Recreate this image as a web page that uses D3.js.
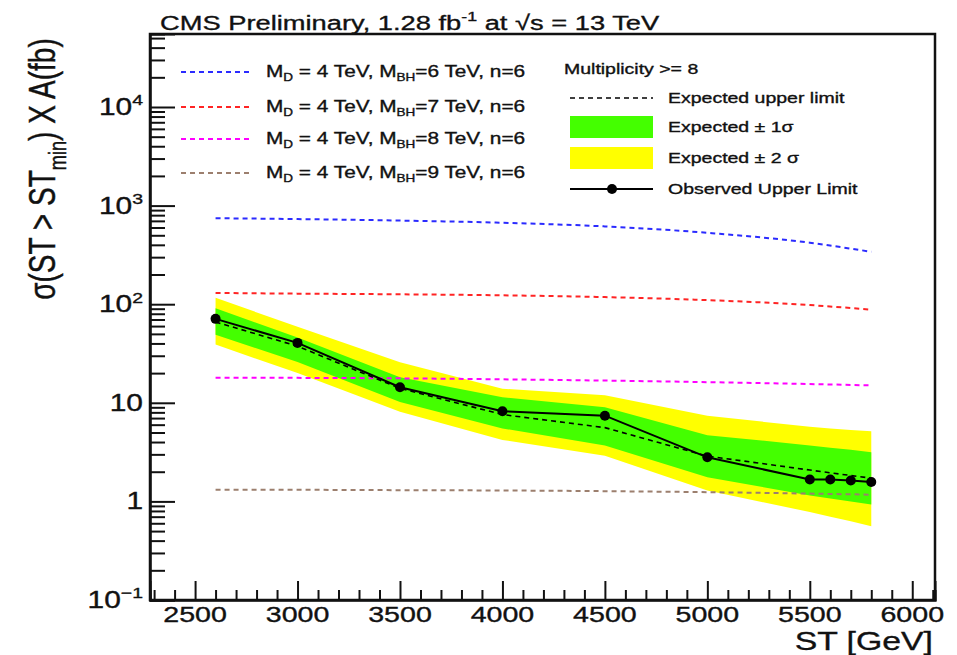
<!DOCTYPE html>
<html>
<head>
<meta charset="utf-8">
<script src="https://cdn.jsdelivr.net/npm/d3@7"></script>
<style>
body { margin: 0; background: #fff; }
text { font-family: "Liberation Sans", Arial, Helvetica, sans-serif; fill: #111; stroke: #111; stroke-width: 0.35px; }
</style>
</head>
<body>
<div id="chart"></div>
<script>
// data
var stPoints = [2600, 3000, 3500, 4000, 4500, 5000, 5500, 5600, 5700, 5800];
var observed = [71, 40.5, 14.4, 8.2, 7.4, 2.8, 1.67, 1.67, 1.63, 1.57];
var expected = [66, 37.5, 14, 7.6, 5.6, 2.88, 2.08, 1.95, 1.83, 1.72];
var sigma1Up = [91, 46, 18.2, 11.4, 9.0, 4.7, 3.7, 3.5, 3.35, 3.16];
var sigma1Dn = [49, 26, 10.2, 5.5, 3.7, 1.76, 1.15, 1.07, 1.0, 0.93];
var sigma2Up = [116, 59, 25.8, 13.9, 11.9, 7.4, 5.7, 5.5, 5.3, 5.15];
var sigma2Dn = [39, 20, 8.1, 4.2, 2.9, 1.29, 0.78, 0.7, 0.63, 0.56];

var modelST = [2600, 3000, 3500, 4000, 4500, 5000, 5500, 5800];
var mbh6 = [745, 730, 705, 670, 615, 530, 420, 340];
var mbh7 = [130, 128, 126, 123, 118, 110, 98, 88];
var mbh8 = [18, 17.9, 17.7, 17.3, 16.8, 16.2, 15.5, 15];
var mbh9 = [1.31, 1.31, 1.3, 1.29, 1.27, 1.24, 1.2, 1.17];

var modelNames = ["6", "7", "8", "9"];
var modelColors = ["#2b2bff", "#ff2424", "#ff00ff", "#9c7f6e"];

var xMajor = [2500, 3000, 3500, 4000, 4500, 5000, 5500, 6000];
var yMajor = [0.1, 1, 10, 100, 1000, 10000];
var yLabels = [["10", "\u22121"], ["1", ""], ["10", ""], ["10", "2"], ["10", "3"], ["10", "4"]];

// setup
var svgWidth = 957;
var svgHeight = 655;
var margin = {top: 34, right: 22, bottom: 55, left: 150};
var chartWidth = svgWidth - margin.left - margin.right;
var chartHeight = svgHeight - margin.top - margin.bottom;
var SX = 1.3; // the picture is stretched sideways

var svg = d3.select("#chart")
  .append("svg")
  .attr("width", svgWidth)
  .attr("height", svgHeight);

var chartGroup = svg.append("g")
  .attr("transform", `translate(${margin.left}, ${margin.top})`);

var xScale = d3.scaleLinear()
  .domain([2280, 6111])
  .range([0, chartWidth]);

var yScale = d3.scaleLog()
  .domain([0.1, 55000])
  .range([chartHeight, 0]);

// text with sub/superscripts, stretched like the original
function richText(parent, x, y, parts, size, anchor, rotated) {
  var t = parent.append("text")
    .attr("font-size", size)
    .attr("text-anchor", anchor || "start")
    .attr("transform", rotated
      ? `translate(${x},${y}) rotate(-90) scale(1,${SX})`
      : `translate(${x},${y}) scale(${SX},1)`);
  var shift = 0;
  parts.forEach(function(p) {
    var want = p[1] == "sub" ? size * 0.3 : p[1] == "sup" ? -size * 0.42 : 0;
    t.append("tspan")
      .attr("dy", want - shift)
      .attr("font-size", p[1] ? size * 0.65 : size)
      .text(p[0]);
    shift = want;
  });
  return t;
}

// bands
var rows = stPoints.map(function(st, i) {
  return {st: st, obs: observed[i], exp: expected[i],
    u1: sigma1Up[i], d1: sigma1Dn[i], u2: sigma2Up[i], d2: sigma2Dn[i]};
});

chartGroup.append("path")
  .datum(rows)
  .attr("fill", "#ffff00")
  .attr("d", d3.area().x(d => xScale(d.st)).y0(d => yScale(d.d2)).y1(d => yScale(d.u2)));

chartGroup.append("path")
  .datum(rows)
  .attr("fill", "#44ff00")
  .attr("d", d3.area().x(d => xScale(d.st)).y0(d => yScale(d.d1)).y1(d => yScale(d.u1)));

// model curves
[mbh6, mbh7, mbh8, mbh9].forEach(function(vals, k) {
  chartGroup.append("path")
    .datum(modelST.map((st, i) => [st, vals[i]]))
    .attr("fill", "none")
    .attr("stroke", modelColors[k])
    .attr("stroke-width", 2)
    .attr("stroke-dasharray", "5,4")
    .attr("d", d3.line().curve(d3.curveMonotoneX).x(d => xScale(d[0])).y(d => yScale(d[1])));
});

// expected and observed
chartGroup.append("path")
  .datum(rows)
  .attr("fill", "none")
  .attr("stroke", "#000")
  .attr("stroke-width", 1.6)
  .attr("stroke-dasharray", "5,4")
  .attr("d", d3.line().x(d => xScale(d.st)).y(d => yScale(d.exp)));

chartGroup.append("path")
  .datum(rows)
  .attr("fill", "none")
  .attr("stroke", "#000")
  .attr("stroke-width", 2)
  .attr("d", d3.line().x(d => xScale(d.st)).y(d => yScale(d.obs)));

chartGroup.selectAll("circle.obs")
  .data(rows)
  .enter()
  .append("circle")
  .attr("class", "obs")
  .attr("cx", d => xScale(d.st))
  .attr("cy", d => yScale(d.obs))
  .attr("r", 5)
  .attr("fill", "#000");

// axes
var xMinor = d3.range(2300, 6101, 100).filter(v => v % 500 != 0);
chartGroup.append("g")
  .attr("transform", `translate(0, ${chartHeight})`)
  .call(d3.axisBottom(xScale).tickValues(xMinor).tickSize(-10).tickFormat(""));
chartGroup.append("g")
  .attr("transform", `translate(0, ${chartHeight})`)
  .call(d3.axisBottom(xScale).tickValues(xMajor).tickSize(-19).tickFormat(""));

var yMinor = yScale.ticks().filter(v => yMajor.indexOf(v) < 0);
chartGroup.append("g")
  .call(d3.axisLeft(yScale).tickValues(yMinor).tickSize(-15).tickFormat(""));
chartGroup.append("g")
  .call(d3.axisLeft(yScale).tickValues(yMajor).tickSize(-25).tickFormat(""));

chartGroup.selectAll(".domain, .tick line")
  .attr("stroke", "#111")
  .attr("stroke-width", 2);

// frame
chartGroup.append("rect")
  .attr("width", chartWidth)
  .attr("height", chartHeight)
  .attr("fill", "none")
  .attr("stroke", "#111")
  .attr("stroke-width", 2.5);

// tick labels
xMajor.forEach(function(v) {
  richText(chartGroup, xScale(v), chartHeight + 22, [[String(v), ""]], 22, "middle");
});
yMajor.forEach(function(v, i) {
  var parts = [[yLabels[i][0], ""]];
  if (yLabels[i][1]) parts.push([yLabels[i][1], "sup"]);
  richText(chartGroup, -7, yScale(v) + 8, parts, 23, "end");
});

// axis titles
richText(svg, 933, 650, [["ST [GeV]", ""]], 26, "end");
richText(svg, 55, 169, [["\u03c3(ST > ST", ""], ["min", "sub"], [") X A(fb)", ""]], 28, "middle", true);

// title
richText(svg, 160, 30, [["CMS Preliminary, 1.28 fb", ""], ["-1", "sup"], [" at \u221as = 13 TeV", ""]], 21, "start");

// left legend
var legRowsL = [72, 107, 139, 173];
modelNames.forEach(function(m, k) {
  svg.append("line")
    .attr("x1", 181).attr("x2", 253)
    .attr("y1", legRowsL[k]).attr("y2", legRowsL[k])
    .attr("stroke", modelColors[k])
    .attr("stroke-width", 2)
    .attr("stroke-dasharray", "5,4");
  richText(svg, 266, legRowsL[k] + 4.5,
    [["M", ""], ["D", "sub"], [" = 4 TeV, M", ""], ["BH", "sub"], ["=" + m + " TeV, n=6", ""]], 16, "start");
});

// right legend
richText(svg, 564, 74, [["Multiplicity >= 8", ""]], 15, "start");
svg.append("line")
  .attr("x1", 570).attr("x2", 653).attr("y1", 98).attr("y2", 98)
  .attr("stroke", "#000").attr("stroke-width", 1.6).attr("stroke-dasharray", "5,4");
richText(svg, 668, 103, [["Expected upper limit", ""]], 15, "start");
svg.append("rect").attr("x", 570).attr("y", 116).attr("width", 83).attr("height", 22).attr("fill", "#44ff00");
richText(svg, 668, 132, [["Expected \u00b1 1\u03c3", ""]], 15, "start");
svg.append("rect").attr("x", 570).attr("y", 147).attr("width", 83).attr("height", 22).attr("fill", "#ffff00");
richText(svg, 668, 163, [["Expected \u00b1 2 \u03c3", ""]], 15, "start");
svg.append("line")
  .attr("x1", 570).attr("x2", 653).attr("y1", 189).attr("y2", 189)
  .attr("stroke", "#000").attr("stroke-width", 2);
svg.append("circle").attr("cx", 612).attr("cy", 189).attr("r", 5).attr("fill", "#000");
richText(svg, 668, 194, [["Observed Upper Limit", ""]], 15, "start");
</script>
</body>
</html>
